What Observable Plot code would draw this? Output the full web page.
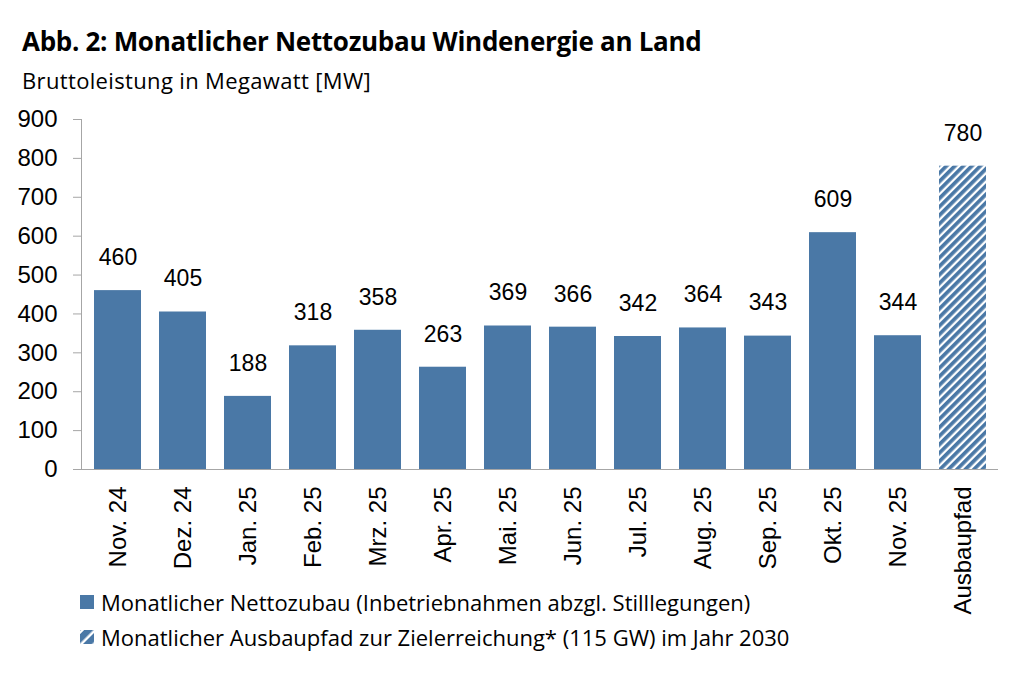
<!DOCTYPE html>
<html><head><meta charset="utf-8">
<script src="https://cdn.jsdelivr.net/npm/d3@7"></script>
<script src="https://cdn.jsdelivr.net/npm/@observablehq/plot@0.6"></script>
<style>
body{margin:0;background:#fff;width:1024px;height:679px;overflow:hidden;position:relative;font-family:"Open Sans",sans-serif;color:#000;}
#title{position:absolute;left:22px;top:24px;font-weight:700;font-size:26px;line-height:34px;white-space:nowrap;letter-spacing:-0.3px;}
#subtitle{position:absolute;left:22px;top:66px;font-size:22px;line-height:28px;white-space:nowrap;letter-spacing:0.35px;}
#chart{position:absolute;left:0;top:100px;}
#legend{position:absolute;left:80px;top:584px;font-size:22px;}
.item{display:flex;align-items:center;height:35px;white-space:nowrap;}
.item svg{margin-right:7px;}
</style></head>
<body>
<div id="title">Abb. 2: Monatlicher Nettozubau Windenergie an Land</div>
<div id="subtitle">Bruttoleistung in Megawatt [MW]</div>
<div id="chart"></div>
<div id="legend"></div>
<script>
const categories = ["Nov. 24","Dez. 24","Jan. 25","Feb. 25","Mrz. 25","Apr. 25","Mai. 25","Jun. 25","Jul. 25","Aug. 25","Sep. 25","Okt. 25","Nov. 25","Ausbaupfad"];
const values = [460,405,188,318,358,263,369,366,342,364,343,609,344,780];
const kinds = ["ist","ist","ist","ist","ist","ist","ist","ist","ist","ist","ist","ist","ist","pfad"];
const yTicks = [0,100,200,300,400,500,600,700,800,900];
const legendLabels = ["Monatlicher Nettozubau (Inbetriebnahmen abzgl. Stilllegungen)","Monatlicher Ausbaupfad zur Zielerreichung* (115 GW) im Jahr 2030"];

const BLUE = "#4A78A6";
const GRAY = "#A6A6A6";
const NUMFONT = "'Liberation Sans', Arial, sans-serif";

const data = categories.map((c,i)=>({cat:c, value:values[i], kind:kinds[i]}));

const chart = Plot.plot({
  width: 1024,
  height: 560,
  marginTop: 19,
  marginBottom: 191,
  marginLeft: 81,
  marginRight: 26,
  style: {fontFamily: NUMFONT, fontSize: "24px", color: "#000", background: "transparent", overflow: "visible"},
  x: {domain: categories, paddingInner: 0.28, paddingOuter: 0.14, label: null},
  y: {domain: [0, 900], label: null},
  marks: [
    Plot.barY(data.filter(d=>d.kind==="ist"), {x:"cat", y:"value", fill: BLUE}),
    Plot.barY(data.filter(d=>d.kind==="pfad"), {x:"cat", y:"value", fill: "url(#hatch)"}),
    Plot.text(data, {x:"cat", y:"value", text: d=>String(d.value), dy:-33, fontSize:23, fill:"#000", fontFamily: NUMFONT}),
    Plot.axisY({ticks: yTicks, tickSize: 8, tickPadding: 16, fontSize: 24, stroke: GRAY, fill:"#000", label: null}),
    Plot.axisX({tickRotate: -90, tickSize: 0, tickPadding: 17, fontSize: 24, fill:"#000", label: null}),
    Plot.frame({anchor: "left", stroke: GRAY}),
    Plot.ruleY([0], {stroke: GRAY})
  ]
});

const defs = d3.select(chart).insert("defs", ":first-child");
const pat = defs.append("pattern").attr("id","hatch").attr("patternUnits","userSpaceOnUse")
  .attr("width",6).attr("height",6).attr("patternTransform","rotate(45)");
pat.append("rect").attr("width",6).attr("height",6).attr("fill","#fff");
pat.append("rect").attr("width",3.7).attr("height",6).attr("fill",BLUE);
document.getElementById("chart").appendChild(chart);

const legend = d3.select("#legend");
legendLabels.forEach((lab,i)=>{
  const it = legend.append("div").attr("class","item");
  const s = it.append("svg").attr("width",14).attr("height",14);
  if (i===0) {
    s.append("rect").attr("width",14).attr("height",14).attr("fill",BLUE);
  } else {
    const p = s.append("defs").append("pattern").attr("id","hatchL").attr("patternUnits","userSpaceOnUse")
      .attr("width",9).attr("height",9).attr("patternTransform","rotate(45) translate(3,0)");
    p.append("rect").attr("width",9).attr("height",9).attr("fill","#fff");
    p.append("rect").attr("width",6.5).attr("height",9).attr("fill",BLUE);
    s.append("rect").attr("width",14).attr("height",14).attr("fill","url(#hatchL)");
  }
  it.append("span").text(lab);
});
</script>
</body></html>
